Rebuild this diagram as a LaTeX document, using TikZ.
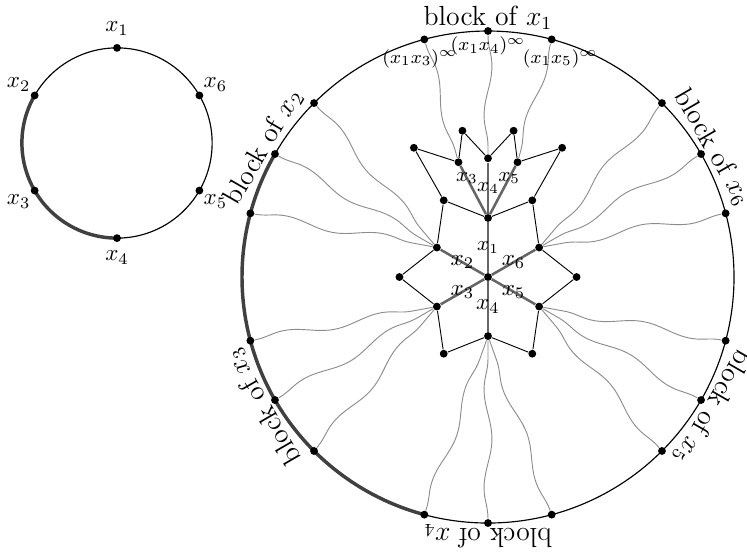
\documentclass[tikz,border=0pt]{standalone}
\usepackage{amsmath,amssymb}
\usetikzlibrary{calc,positioning,decorations.pathmorphing,backgrounds}

\tikzset{
  dot/.style={circle, fill=black, inner sep=0pt, minimum size=3.4pt},
  spoke/.style={draw=black!60, line width=1.1pt},
  wire/.style={draw=black!45, line width=0.4pt, decorate,
               decoration={snake, amplitude=0.6mm, segment length=15mm}},
  ring/.style={draw=black, line width=0.5pt},
  thickarc/.style={draw=black!75, line width=1.5pt},
  blocklbl/.style={font=\large, inner sep=0.5pt, anchor=south},
  sidelbl/.style={inner sep=0.3pt},
}

\begin{document}
\begin{tikzpicture}
  \useasboundingbox (-7.439,-4.223) rectangle (3.948,4.223);

  % small circle
  \coordinate (sc) at (-5.655,2.043);
  \node[dot, label=above:$x_1$]       (p1) at ($(sc)+(90:1.45)$) {};
  \node[dot, label={[sidelbl]above left:$x_2$}]  (p2) at ($(sc)+(150:1.45)$) {};
  \node[dot, label={[sidelbl]below left:$x_3$}]  (p3) at ($(sc)+(210:1.45)$) {};
  \node[dot, label=below:$x_4$]       (p4) at ($(sc)+(270:1.45)$) {};
  \node[dot, label={[sidelbl]below right:$x_5$}] (p5) at ($(sc)+(330:1.45)$) {};
  \node[dot, label={[sidelbl]above right:$x_6$}] (p6) at ($(sc)+(30:1.45)$) {};

  % big circle: blocks of three dots
  \foreach \k in {1,...,6} {
    \foreach \i/\d in {a/15, b/0, c/-15} {
      \node[dot] (o\k\i) at ({90+60*(\k-1)+\d}:3.75) {};
    }
    \node[blocklbl, rotate={60*(\k-1)}] (blk\k) at ({90+60*(\k-1)}:3.75) {block of $x_{\k}$};
  }
  \node[font=\footnotesize] (w3) at (-1.04,3.33) {$(x_1x_3)^\infty$};
  \node[font=\footnotesize] (w4) at (0,3.52) {$(x_1x_4)^\infty$};
  \node[font=\footnotesize] (w5) at (1.10,3.33) {$(x_1x_5)^\infty$};

  % tree in the middle
  \node[dot] (c) at (0,0) {};
  \foreach \k in {1,...,6} {
    \node[dot] (t\k) at ({90+60*(\k-1)}:0.9) {};
  }
  \foreach \k in {0,...,5} {
    \node[dot] (e\k) at ({60*\k}:1.35) {};
  }
  \node[dot] (s3) at (-0.45,1.75) {};
  \node[dot] (s4) at (0,1.81) {};
  \node[dot] (s5) at (0.45,1.75) {};
  \node[dot] (f1) at (-1.13,1.97) {};
  \node[dot] (f2) at (-0.39,2.23) {};
  \node[dot] (f3) at (0.39,2.23) {};
  \node[dot] (f4) at (1.13,1.97) {};

  \begin{scope}[on background layer]
    \draw[ring] (sc) circle (1.45);
    \draw[thickarc] (p2.center) arc (150:270:1.45);
    \draw[ring] (0,0) circle (3.75);
    \draw[thickarc] (o2b.center) arc (150:255:3.75);

    % wires from the blocks to the leaves
    \draw[wire] (o1a) -- (s3);
    \draw[wire] (o1b) -- (s4);
    \draw[wire] (o1c) -- (s5);
    \foreach \k in {2,...,6} {
      \foreach \i in {a,b,c} {
        \draw[wire] (o\k\i) -- (t\k);
      }
    }

    % boundary walk
    \draw (e3) -- (t2) -- (e2) -- (t1) -- (e1) -- (t6) -- (e0) -- (t5)
          -- (e5) -- (t4) -- (e4) -- (t3) -- (e3);
    \draw (e2) -- (f1) -- (s3) -- (f2) -- (s4) -- (f3) -- (s5) -- (f4) -- (e1);

    % spokes
    \draw[spoke] (c) -- (t1) node[midway, font=\small] {$x_1$};
    \draw[spoke] (c) -- (t2) node[midway] {$x_2$};
    \draw[spoke] (c) -- (t3) node[midway] {$x_3$};
    \draw[spoke] (c) -- (t4) node[midway] {$x_4$};
    \draw[spoke] (c) -- (t5) node[midway] {$x_5$};
    \draw[spoke] (c) -- (t6) node[midway] {$x_6$};
    \draw[spoke] (t1) -- (s3) node[pos=0.75, font=\small] {$x_3$};
    \draw[spoke] (t1) -- (s4) node[midway, font=\small] {$x_4$};
    \draw[spoke] (t1) -- (s5) node[pos=0.75, font=\small] {$x_5$};
  \end{scope}
\end{tikzpicture}
\end{document}
